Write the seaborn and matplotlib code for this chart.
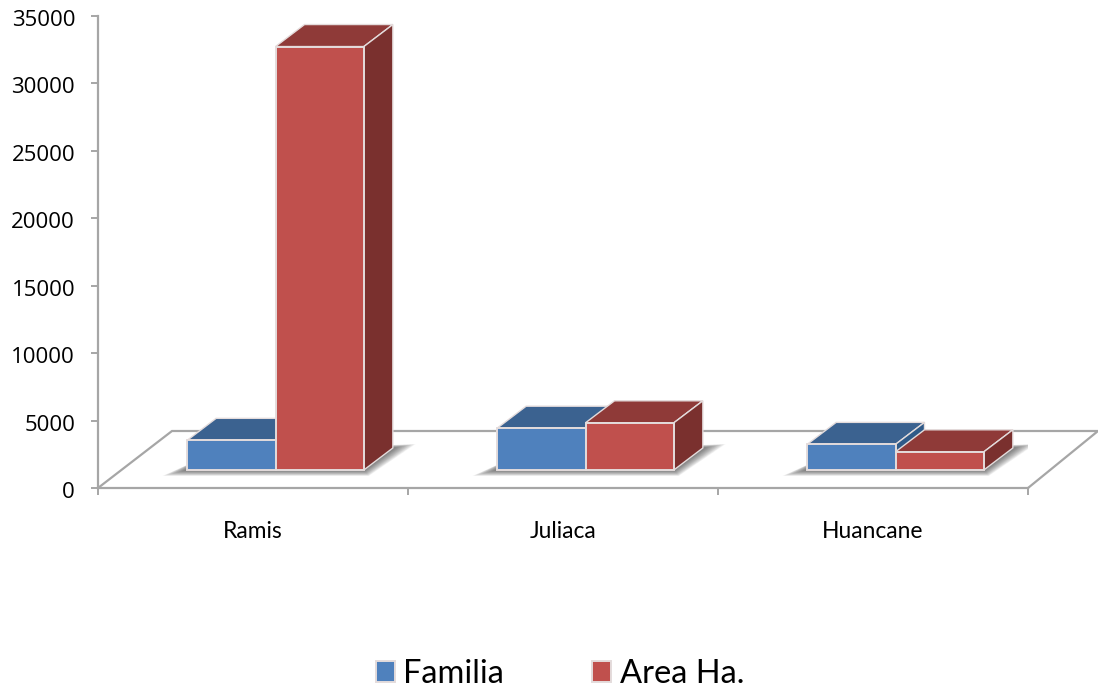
import matplotlib
matplotlib.use("Agg")
import matplotlib.pyplot as plt
import matplotlib.transforms as mtrans
import numpy as np
import pandas as pd
import seaborn as sns
from matplotlib.patches import Polygon

categories = ["Ramis", "Juliaca", "Huancane"]
familia = [2200, 3100, 1900]
area_ha = [31400, 3500, 1350]
y_ticks = [0, 5000, 10000, 15000, 20000, 25000, 30000, 35000]

W, H = 1098, 693
LEFT, RIGHT, BASE, TOP = 98, 1028, 488, 16
GREY = "#a6a6a6"
EDGE = "#e4dcdc"
FACES = {
    "Familia": ("#4f81bd", "#3b6290", "#2f5a88"),
    "Area Ha.": ("#c0504d", "#8f3a38", "#7a302e"),
}

sns.set_theme(style="white")
plt.rcParams["font.family"] = ["Lato", "DejaVu Sans"]
plt.rcParams["text.color"] = "black"

df = pd.DataFrame({
    "region": categories * 2,
    "serie": ["Familia"] * 3 + ["Area Ha."] * 3,
    "valor": familia + area_ha,
})

fig = plt.figure(figsize=(W / 100, H / 100), dpi=100)
ax = fig.add_axes([LEFT / W, 1 - BASE / H, (RIGHT - LEFT) / W, (BASE - TOP) / H])
ax.patch.set_alpha(0)

# one pixel in data units
px_x = 3 / (RIGHT - LEFT)
px_y = 35000 / (BASE - TOP)
lift = 18 * px_y  # bars stand on the floor, not on the axis line
shift = 22.5 * px_x
dx, dy = 29 * px_x, 22 * px_y

sns.barplot(data=df, x="region", y="valor", hue="serie", order=categories,
            hue_order=list(FACES), palette=[v[0] for v in FACES.values()],
            width=0.57, gap=0, ax=ax, saturation=1,
            edgecolor=EDGE, linewidth=1.4, zorder=3)
ax.set_xlim(-0.5, 2.5)
ax.set_ylim(0, 35000)

# the bars come back grouped by hue: first 3 blue, then 3 red
bars = [p for p in ax.patches if p.get_height() > 0]
n_cat = len(categories)

# floor of the 3d box
floor = [(-0.5, 0), (-0.5 + 74 * px_x, 57 * px_y), (2.5 + 70 * px_x, 57 * px_y), (2.5, 0)]
ax.add_patch(Polygon(floor, closed=False, fc="white", ec=GREY, lw=1.6,
                     clip_on=False, zorder=1))

for i, bar in enumerate(bars):
    name = list(FACES)[i // n_cat]
    _, top_c, side_c = FACES[name]
    bar.set_x(bar.get_x() + shift)
    bar.set_y(lift)
    bar.set_clip_on(False)
    z = 3 + i // n_cat
    bar.set_zorder(z + 0.2)
    x0, x1 = bar.get_x(), bar.get_x() + bar.get_width()
    y0, y1 = bar.get_y(), bar.get_y() + bar.get_height()
    top = [(x0, y1), (x0 + dx, y1 + dy), (x1 + dx, y1 + dy), (x1, y1)]
    side = [(x1, y0), (x1 + dx, y0 + dy), (x1 + dx, y1 + dy), (x1, y1)]
    ax.add_patch(Polygon(top, fc=top_c, ec=EDGE, lw=1.0, clip_on=False, zorder=z))
    ax.add_patch(Polygon(side, fc=side_c, ec=EDGE, lw=1.0, clip_on=False, zorder=z + 0.1))

# soft shadow under each pair of bars
for j in range(n_cat):
    x0 = bars[j].get_x()
    x1 = bars[j + n_cat].get_x() + bars[j + n_cat].get_width()
    inner = np.array([(x0, lift), (x1, lift), (x1 + dx, lift + dy), (x0 + dx, lift + dy)])
    outer = np.array([
        (x0 - 25 * px_x, lift - 6 * px_y),
        (x1 + 5 * px_x, lift - 6 * px_y),
        (x1 + 52 * px_x, lift + 26 * px_y),
        (x0 + dx, lift + 18 * px_y),
    ])
    for t in np.linspace(1, 0.05, 24):
        ax.add_patch(Polygon(inner + (outer - inner) * t, fc="#303030", ec="none",
                             alpha=0.035, zorder=2))

# ticks sit between the categories, labels in the middle
ax.set_xticks([-0.5, 0.5, 1.5, 2.5], labels=[])
ax.set_xticks([0, 1, 2], labels=categories, minor=True)
ax.set_yticks(y_ticks)
ax.tick_params(axis="x", which="major", length=5, width=1.4, color=GREY, bottom=True)
ax.tick_params(axis="x", which="minor", length=0, pad=24, labelsize=16.4, labelcolor="black")
ax.tick_params(axis="y", length=5, width=1.4, color=GREY, left=True, pad=11.5,
               labelsize=16, labelcolor="black")
# y labels sit a little under their ticks in the original
down = mtrans.ScaledTranslation(0, -2 / 100, fig.dpi_scale_trans)
for lab in ax.get_yticklabels():
    lab.set_fontfamily("Open Sans")
    lab.set_transform(lab.get_transform() + down)
ax.set_xlabel("")
ax.set_ylabel("")
sns.despine(ax=ax)
for s in ["left", "bottom"]:
    ax.spines[s].set_color(GREY)
    ax.spines[s].set_linewidth(1.6)
    ax.spines[s].set_zorder(1.5)

handles, labels = ax.get_legend_handles_labels()
ax.legend(handles, labels, ncol=2, frameon=False, fontsize=23.5,
          loc="center", bbox_to_anchor=(560 / W, 1 - 674 / H),
          bbox_transform=fig.transFigure, handlelength=0.58, handleheight=0.58,
          handletextpad=0.27, columnspacing=2.7, borderpad=0)

fig.savefig("out.png", dpi=100)
